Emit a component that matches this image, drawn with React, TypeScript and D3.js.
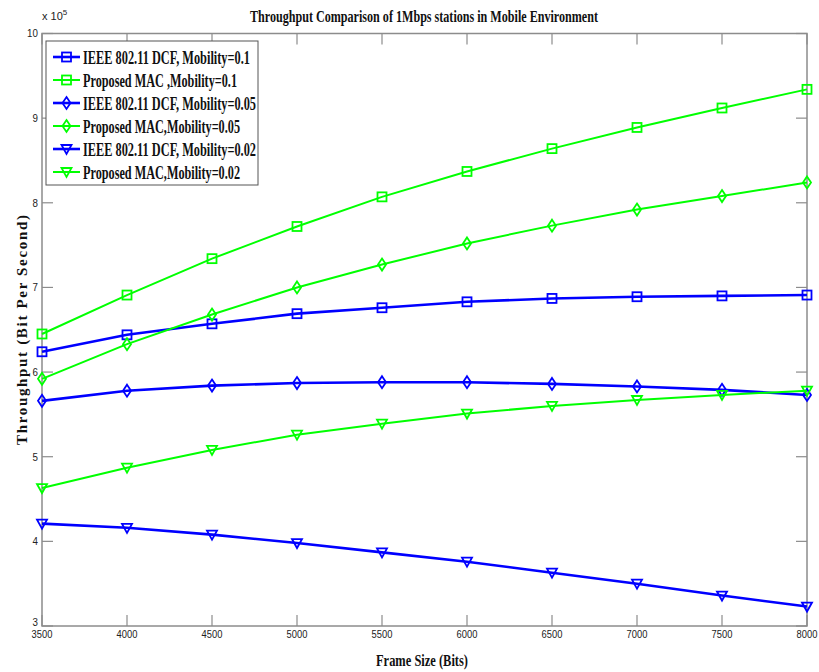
import React, { useEffect, useRef } from "react";
import * as d3 from "d3";

const frameSizes = [3500, 4000, 4500, 5000, 5500, 6000, 6500, 7000, 7500, 8000];

const dcfMob01 = [6.24, 6.44, 6.57, 6.69, 6.76, 6.83, 6.87, 6.89, 6.9, 6.91];
const macMob01 = [6.45, 6.91, 7.34, 7.72, 8.07, 8.37, 8.64, 8.89, 9.12, 9.34];
const dcfMob005 = [5.66, 5.78, 5.84, 5.87, 5.88, 5.88, 5.86, 5.83, 5.79, 5.73];
const macMob005 = [5.92, 6.33, 6.68, 7.0, 7.27, 7.52, 7.73, 7.92, 8.08, 8.24];
const dcfMob002 = [4.21, 4.16, 4.08, 3.98, 3.87, 3.76, 3.63, 3.5, 3.36, 3.23];
const macMob002 = [4.63, 4.87, 5.08, 5.26, 5.39, 5.51, 5.6, 5.67, 5.73, 5.78];

const seriesNames = [
  "IEEE 802.11 DCF, Mobility=0.1",
  "Proposed MAC ,Mobility=0.1",
  "IEEE 802.11 DCF, Mobility=0.05",
  "Proposed MAC,Mobility=0.05",
  "IEEE 802.11 DCF, Mobility=0.02",
  "Proposed MAC,Mobility=0.02",
];
const seriesValues = [dcfMob01, macMob01, dcfMob005, macMob005, dcfMob002, macMob002];
const seriesMarkers = ["square", "square", "diamond", "diamond", "triangle", "triangle"];
const seriesColors = ["#0000ff", "#00ff00", "#0000ff", "#00ff00", "#0000ff", "#00ff00"];
const seriesWidths = [2.6, 2, 2.6, 2, 2.6, 2];
const legendTextWidths = [167, 154, 173, 157, 173, 157];

const xTicks = [3500, 4000, 4500, 5000, 5500, 6000, 6500, 7000, 7500, 8000];
const yTicks = [3, 4, 5, 6, 7, 8, 9, 10];

const W = 819;
const H = 672;
const left = 42;
const right = 807;
const top = 33.5;
const bottom = 626;

function drawMarker(g: any, kind: string, x: number, y: number, color: string) {
  if (kind === "square") {
    g.append("rect")
      .attr("x", x - 4.5)
      .attr("y", y - 4.5)
      .attr("width", 9)
      .attr("height", 9)
      .attr("fill", "none")
      .attr("stroke", color)
      .attr("stroke-width", 1.8);
  } else if (kind === "diamond") {
    g.append("path")
      .attr("d", `M${x},${y - 6}L${x + 4},${y}L${x},${y + 6}L${x - 4},${y}Z`)
      .attr("fill", "none")
      .attr("stroke", color)
      .attr("stroke-width", 1.8);
  } else {
    g.append("path")
      .attr("d", `M${x - 5},${y - 4}L${x + 5},${y - 4}L${x},${y + 5}Z`)
      .attr("fill", "none")
      .attr("stroke", color)
      .attr("stroke-width", 1.8);
  }
}

export default function App() {
  const ref = useRef<SVGSVGElement>(null);

  useEffect(() => {
    const svg = d3.select(ref.current);
    svg.selectAll("*").remove();

    const x = d3.scaleLinear().domain([3500, 8000]).range([left, right]);
    const y = d3.scaleLinear().domain([3, 10]).range([bottom, top]);

    svg.append("rect").attr("width", W).attr("height", H).attr("fill", "#fff");

    const axisColor = "#8c8c8c";
    const frame = svg.append("g");
    frame
      .append("rect")
      .attr("x", left)
      .attr("y", top)
      .attr("width", right - left)
      .attr("height", bottom - top)
      .attr("fill", "none")
      .attr("stroke", axisColor)
      .attr("stroke-width", 1.5);

    const tickLen = 11;
    xTicks.forEach((t) => {
      const px = x(t);
      frame.append("line").attr("x1", px).attr("x2", px).attr("y1", bottom).attr("y2", bottom - tickLen)
        .attr("stroke", axisColor).attr("stroke-width", 1.2);
      frame.append("line").attr("x1", px).attr("x2", px).attr("y1", top).attr("y2", top + tickLen)
        .attr("stroke", axisColor).attr("stroke-width", 1.2);
      svg.append("text")
        .attr("x", px)
        .attr("y", bottom + 12)
        .attr("text-anchor", "middle")
        .attr("font-family", "Liberation Sans, Arial, sans-serif")
        .attr("font-size", 11)
        .attr("transform", `translate(${px},0) scale(0.85,1) translate(${-px},0)`)
        .attr("fill", "#222")
        .text(String(t));
    });
    yTicks.forEach((t) => {
      const py = y(t);
      frame.append("line").attr("x1", left).attr("x2", left + tickLen).attr("y1", py).attr("y2", py)
        .attr("stroke", axisColor).attr("stroke-width", 1.2);
      frame.append("line").attr("x1", right).attr("x2", right - tickLen).attr("y1", py).attr("y2", py)
        .attr("stroke", axisColor).attr("stroke-width", 1.2);
      svg.append("text")
        .attr("x", left - 4)
        .attr("y", t === 3 ? py : py + 4)
        .attr("text-anchor", "end")
        .attr("font-family", "Liberation Sans, Arial, sans-serif")
        .attr("font-size", 11.5)
        .attr("transform", `translate(${left - 4},0) scale(0.85,1) translate(${-(left - 4)},0)`)
        .attr("fill", "#222")
        .text(String(t));
    });

    // exponent label
    const expText = svg.append("text")
      .attr("x", left)
      .attr("y", 20)
      .attr("font-family", "Liberation Sans, Arial, sans-serif")
      .attr("font-size", 11)
      .attr("fill", "#222");
    expText.append("tspan").text("x 10");
    expText.append("tspan").attr("dy", -5).attr("font-size", 8).text("5");

    // series
    const line = d3
      .line<number>()
      .x((_, i) => x(frameSizes[i]))
      .y((d) => y(d));

    seriesValues.forEach((vals, si) => {
      const g = svg.append("g");
      g.append("path")
        .attr("d", line(vals))
        .attr("fill", "none")
        .attr("stroke", seriesColors[si])
        .attr("stroke-width", seriesWidths[si]);
      vals.forEach((v, i) => drawMarker(g, seriesMarkers[si], x(frameSizes[i]), y(v), seriesColors[si]));
    });

    // legend
    const lg = svg.append("g");
    lg.append("rect")
      .attr("x", 46)
      .attr("y", 41)
      .attr("width", 212)
      .attr("height", 144)
      .attr("fill", "#fff")
      .attr("stroke", "#555")
      .attr("stroke-width", 1);
    seriesNames.forEach((name, i) => {
      const ly = 57 + i * 23;
      lg.append("line")
        .attr("x1", 53)
        .attr("x2", 80)
        .attr("y1", ly)
        .attr("y2", ly)
        .attr("stroke", seriesColors[i])
        .attr("stroke-width", seriesWidths[i]);
      drawMarker(lg, seriesMarkers[i], 66.5, ly, seriesColors[i]);
      lg.append("text")
        .attr("x", 83)
        .attr("y", ly + 6.5)
        .attr("font-family", "Liberation Serif, Times New Roman, serif")
        .attr("font-weight", "bold")
        .attr("font-size", 18.5)
        .attr("textLength", legendTextWidths[i])
        .attr("lengthAdjust", "spacingAndGlyphs")
        .attr("fill", "#111")
        .text(name);
    });

    // title
    svg.append("text")
      .attr("x", 250)
      .attr("y", 22)
      .attr("font-family", "Liberation Serif, Times New Roman, serif")
      .attr("font-weight", "bold")
      .attr("font-size", 16.5)
      .attr("textLength", 348)
      .attr("lengthAdjust", "spacingAndGlyphs")
      .attr("fill", "#111")
      .text("Throughput Comparison of 1Mbps stations in Mobile Environment");

    // x label
    svg.append("text")
      .attr("x", 376)
      .attr("y", 666)
      .attr("font-family", "Liberation Serif, Times New Roman, serif")
      .attr("font-weight", "bold")
      .attr("font-size", 16.5)
      .attr("textLength", 92)
      .attr("lengthAdjust", "spacingAndGlyphs")
      .attr("fill", "#111")
      .text("Frame Size (Bits)");

    // y label
    svg.append("text")
      .attr("transform", `translate(27,445) rotate(-90)`)
      .attr("x", 0)
      .attr("y", 0)
      .attr("font-family", "Liberation Serif, Times New Roman, serif")
      .attr("font-weight", "bold")
      .attr("font-size", 15)
      .attr("textLength", 230)
      .attr("lengthAdjust", "spacing")
      .attr("fill", "#111")
      .text("Throughput (Bit Per Second)");
  }, []);

  return (
    <svg
      ref={ref}
      width={W}
      height={H}
      style={{ position: "absolute", left: 0, top: 0, display: "block" }}
    />
  );
}
